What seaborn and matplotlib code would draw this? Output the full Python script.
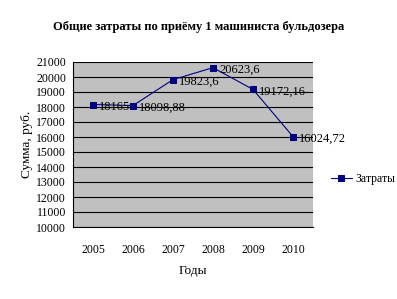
import matplotlib
matplotlib.use("Agg")
import matplotlib.pyplot as plt
import seaborn as sns
import pandas as pd

years = ["2005", "2006", "2007", "2008", "2009", "2010"]
costs = [18165, 18098.88, 19823.6, 20623.6, 19172.16, 16024.72]
value_labels = ["18165", "18098,88", "19823,6", "20623,6", "19172,16", "16024,72"]
yticks = list(range(10000, 21001, 1000))

sns.set_theme(style="white")
plt.rcParams['font.family'] = ['Liberation Serif', 'DejaVu Serif']
plt.rcParams.update({"text.color": "black", "axes.labelcolor": "black",
                     "xtick.color": "black", "ytick.color": "black"})

df = pd.DataFrame({"Год": years, "Затраты": costs})

fig = plt.figure(figsize=(3.97, 2.99), dpi=100)
ax = fig.add_axes([73/397, 1-227/299, 240/397, 165/299])
ax.set_facecolor("#C0C0C0")

sns.lineplot(data=df, x="Год", y="Затраты", ax=ax, color="#000080", lw=0.8,
             marker="s", markersize=4.5, markeredgecolor="#000080",
             label="Затраты", sort=False)

for i, (v, t) in enumerate(zip(costs, value_labels)):
    ax.annotate(t, (i, v), xytext=(4.5, -1.5), textcoords="offset points",
                ha="left", va="center", fontsize=9, color="black")

ax.set_xlim(-0.5, 5.5)
ax.set_ylim(10000, 21000)
ax.set_yticks(yticks)
ax.set_yticklabels([str(t) for t in yticks], fontsize=8.5)
ax.yaxis.grid(True, color="black", lw=0.8)
ax.set_axisbelow(True)
ax.set_xticks(range(len(years)))
ax.set_xticklabels(years, fontsize=8.5)
ax.set_xticks([i - 0.5 for i in range(len(years) + 1)], minor=True)
ax.tick_params(axis="x", which="major", length=0, pad=12)
ax.tick_params(axis="x", which="minor", length=4, width=0.8, color="black", direction="out")
ax.tick_params(axis="y", which="major", length=4, width=0.8, color="black", direction="out", pad=1)

for s in ["top", "right"]:
    ax.spines[s].set_visible(False)
for s in ["left", "bottom"]:
    ax.spines[s].set_color("black")
    ax.spines[s].set_linewidth(0.8)

ax.set_xlabel("Годы", fontsize=9.5, labelpad=7)
ax.set_ylabel("Сумма, руб.", fontsize=9.5, labelpad=2)
fig.suptitle("Общие затраты по приёму 1 машиниста бульдозера", fontsize=9,
             fontweight="bold", x=0.5, y=0.93)

ax.legend(loc="center left", bbox_to_anchor=(1.03, 0.29), frameon=False, fontsize=8.5,
          handlelength=1.8, handletextpad=0.3)

fig.savefig("out.png", dpi=100)
